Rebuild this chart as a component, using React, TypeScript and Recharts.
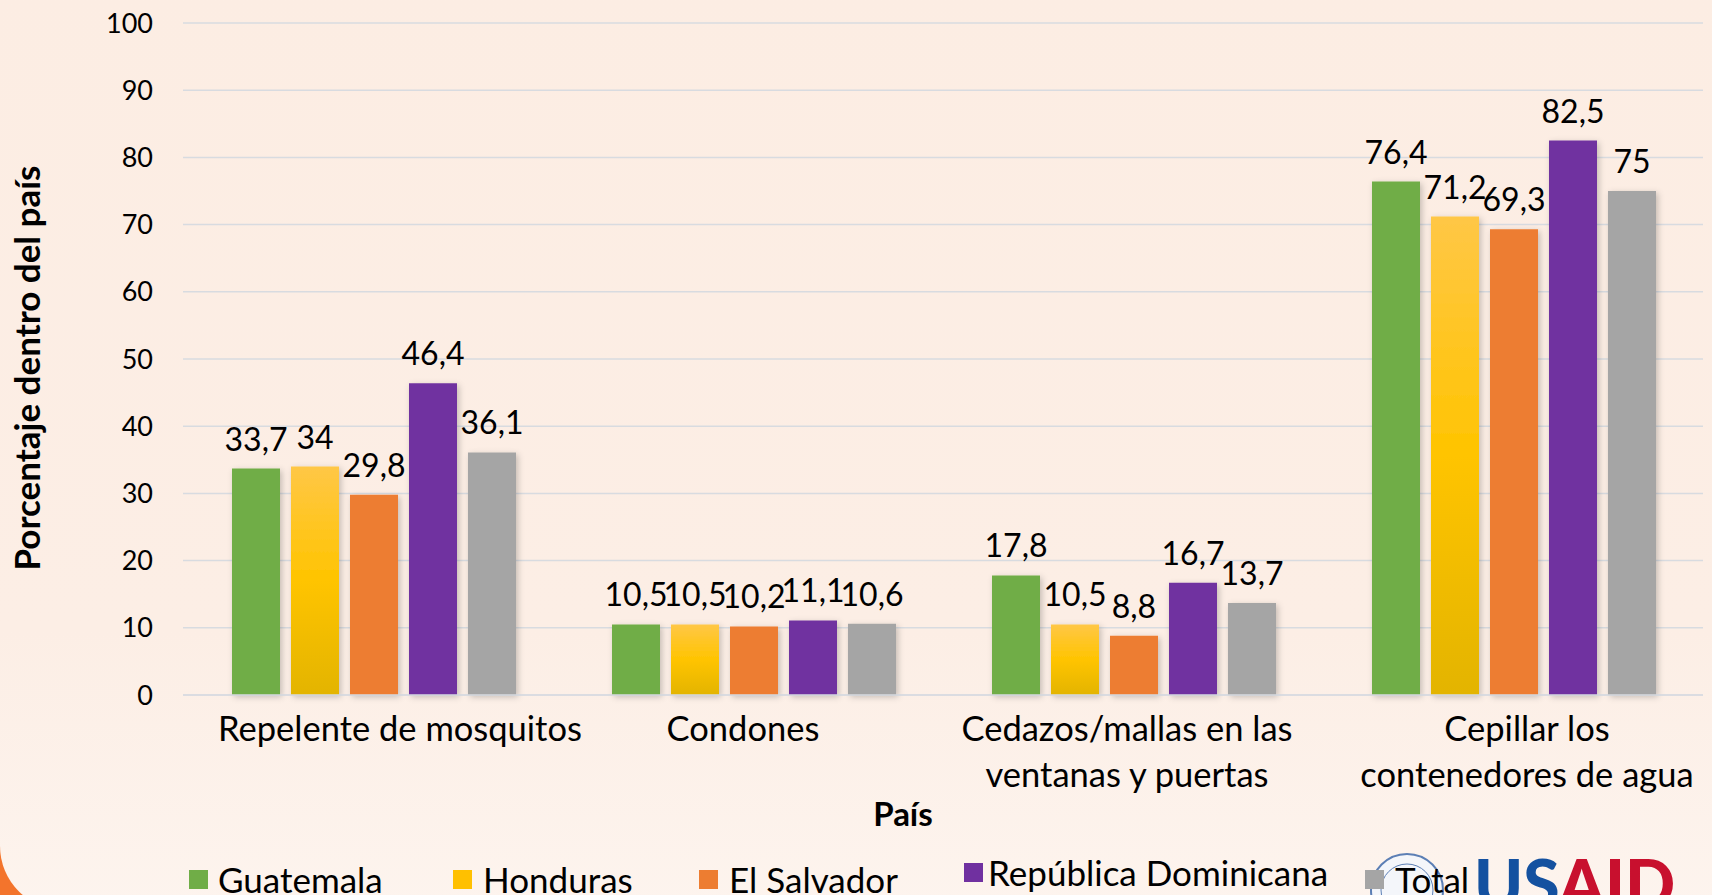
import React from 'react';
import { BarChart, Bar, XAxis, YAxis, CartesianGrid, LabelList } from 'recharts';

const categories = [
  'Repelente de mosquitos',
  'Condones',
  'Cedazos/mallas en las ventanas y puertas',
  'Cepillar los contenedores de agua',
];
const categoryLines = [
  ['Repelente de mosquitos'],
  ['Condones'],
  ['Cedazos/mallas en las', 'ventanas y puertas'],
  ['Cepillar los', 'contenedores de agua'],
];

const guatemala = [33.7, 10.5, 17.8, 76.4];
const honduras = [34, 10.5, 10.5, 71.2];
const elSalvador = [29.8, 10.2, 8.8, 69.3];
const repDominicana = [46.4, 11.1, 16.7, 82.5];
const total = [36.1, 10.6, 13.7, 75];

const yTicks = [0, 10, 20, 30, 40, 50, 60, 70, 80, 90, 100];

const FONT = 'Lato, "Open Sans", sans-serif';

const SERIES = [
  { key: 'guatemala', name: 'Guatemala', fill: '#70AD47', swatch: '#70AD47' },
  { key: 'honduras', name: 'Honduras', fill: 'url(#gradHonduras)', swatch: '#FFC000' },
  { key: 'elSalvador', name: 'El Salvador', fill: '#ED7D31', swatch: '#ED7D31' },
  { key: 'repDominicana', name: 'República Dominicana', fill: '#7030A0', swatch: '#7030A0' },
  { key: 'total', name: 'Total', fill: '#A5A5A5', swatch: '#A5A5A5' },
];

const data = categories.map((name, i) => ({
  name,
  guatemala: guatemala[i],
  honduras: honduras[i],
  elSalvador: elSalvador[i],
  repDominicana: repDominicana[i],
  total: total[i],
}));

// small nudges so the wrapped labels sit like the original slide
const TICK_DX = [27, -10, -6, 14];
// legend item placement (left edge of swatch, vertical shift, text gap)
const LEGEND_POS = [
  { left: 189, dy: 0, gap: 29 },
  { left: 453, dy: 0, gap: 30 },
  { left: 699, dy: 0, gap: 30 },
  { left: 964, dy: -7, gap: 24 },
  { left: 1365, dy: 0, gap: 30 },
];

const fmt = (v: any) => String(v).replace('.', ',');

const CategoryTick = (props: any) => {
  const { x, y, payload, index } = props;
  const lines = categoryLines[index] || [payload.value];
  const cx = x + (TICK_DX[index] || 0);
  return (
    <text x={cx} y={y} textAnchor="middle" fontSize={34.5} fontFamily={FONT} fill="#000">
      {lines.map((line: string, i: number) => (
        <tspan key={i} x={cx} dy={i === 0 ? 38 : 46}>
          {line}
        </tspan>
      ))}
    </text>
  );
};

export default function App() {
  return (
    <div
      style={{
        position: 'absolute',
        left: 0,
        top: 0,
        width: 1712,
        height: 895,
        overflow: 'hidden',
        background: '#F3742C',
        fontFamily: FONT,
      }}
    >
      <div
        style={{
          position: 'absolute',
          left: 0,
          top: -20,
          width: 1760,
          height: 930,
          borderBottomLeftRadius: 64,
          background: 'linear-gradient(to bottom, #FCEDE3 0%, #FCEEE5 70%, #FDF4EE 100%)',
        }}
      />
      <div style={{ position: 'absolute', left: 0, top: 0 }}>
        <BarChart
          width={1712}
          height={895}
          data={data}
          margin={{ top: 23, right: 9, bottom: 0, left: 0 }}
          barCategoryGap={49}
          barGap={11}
        >
          <defs>
            <linearGradient id="gradHonduras" x1="0" y1="0" x2="0" y2="1">
              <stop offset="0%" stopColor="#FFC746" />
              <stop offset="50%" stopColor="#FFC400" />
              <stop offset="100%" stopColor="#E3B400" />
            </linearGradient>
            <filter id="barShadow" x="-30%" y="-10%" width="160%" height="130%">
              <feDropShadow dx="2" dy="2" stdDeviation="3" floodColor="#000" floodOpacity="0.22" />
            </filter>
          </defs>
          <CartesianGrid vertical={false} stroke="#D8DBE0" strokeWidth={1.5} />
          <XAxis
            dataKey="name"
            interval={0}
            height={200}
            tickLine={false}
            axisLine={{ stroke: '#D8DBE0', strokeWidth: 1.5 }}
            tick={<CategoryTick />}
          />
          <YAxis
            domain={[0, 100]}
            ticks={yTicks}
            interval={0}
            width={183}
            tickLine={false}
            axisLine={false}
            tickMargin={24}
            tick={{ fontSize: 27, fill: '#000', fontFamily: FONT }}
          />
          {SERIES.map((s) => (
            <Bar
              key={s.key}
              dataKey={s.key}
              name={s.name}
              fill={s.fill}
              filter="url(#barShadow)"
              isAnimationActive={false}
            >
              <LabelList
                dataKey={s.key}
                position="top"
                offset={18}
                fill="#000"
                fontSize={32}
                fontFamily={FONT}
                formatter={fmt}
              />
            </Bar>
          ))}
        </BarChart>
      </div>

      <div
        style={{
          position: 'absolute',
          left: 26,
          top: 368,
          transform: 'translate(-50%, -50%) rotate(-90deg)',
          whiteSpace: 'nowrap',
          fontWeight: 700,
          fontSize: 35,
          color: '#000',
        }}
      >
        Porcentaje dentro del país
      </div>
      <div
        style={{
          position: 'absolute',
          left: 903,
          top: 813,
          transform: 'translate(-50%, -50%)',
          whiteSpace: 'nowrap',
          fontWeight: 700,
          fontSize: 33,
          color: '#000',
        }}
      >
        País
      </div>

      <svg width={1712} height={895} style={{ position: 'absolute', left: 0, top: 0 }}>
        <circle cx={1407} cy={890} r={36} fill="#F4F6FA" stroke="#5C7FB5" strokeWidth={2} />
        <circle cx={1407} cy={890} r={26} fill="none" stroke="#5C7FB5" strokeWidth={1} />
        <text x={1474} y={908} fontSize={66} fontWeight={900} fontFamily={FONT}>
          <tspan fill="#1451A0">US</tspan>
          <tspan fill="#C8102E">AID</tspan>
        </text>
        {SERIES.map((s, i) => {
          const p = LEGEND_POS[i];
          return (
            <g key={s.key}>
              <rect x={p.left} y={870 + p.dy} width={19} height={19} fill={s.swatch} />
              <text
                x={p.left + p.gap}
                y={893 + p.dy}
                fontSize={35}
                fontFamily={FONT}
                fill="#000"
              >
                {s.name}
              </text>
            </g>
          );
        })}
      </svg>
    </div>
  );
}
